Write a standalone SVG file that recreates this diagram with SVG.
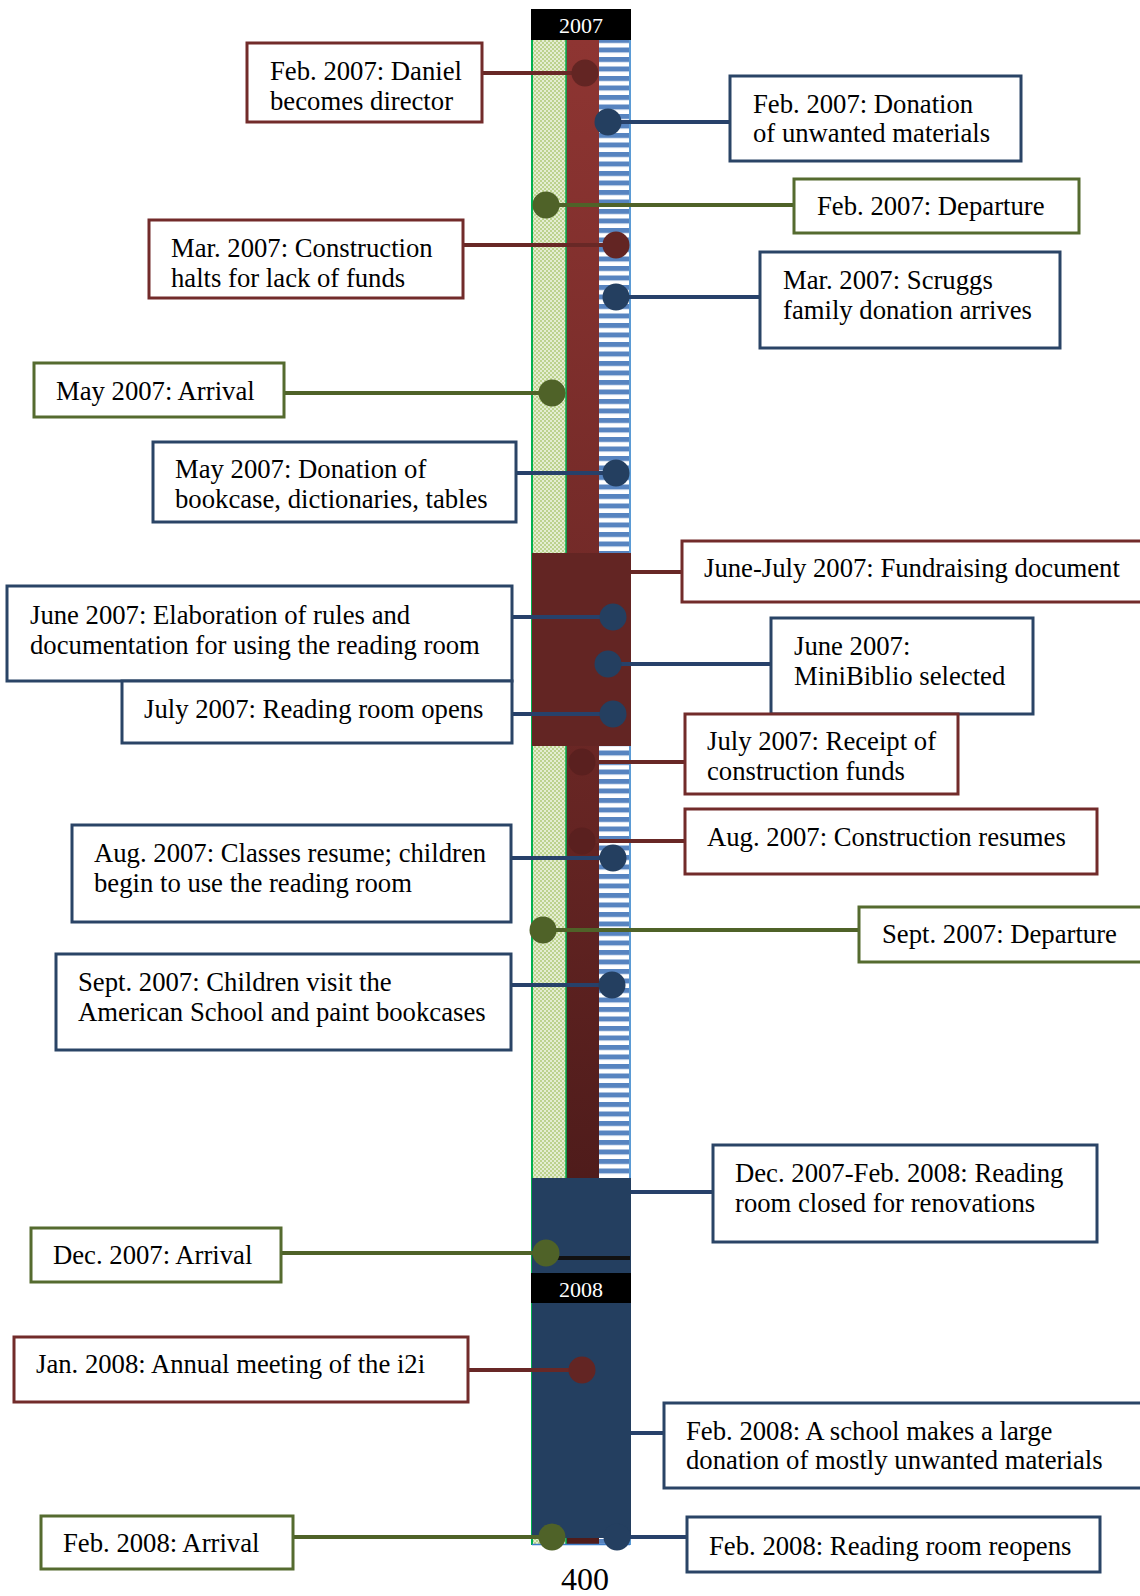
<svg xmlns="http://www.w3.org/2000/svg" width="1140" height="1596" viewBox="0 0 1140 1596">
<style>
  .box rect { fill: #ffffff; stroke-width: 3; }
  .red rect { stroke: #722B2A; }
  .navy rect { stroke: #2A4466; }
  .green rect { stroke: #556B2F; }
  .box text { font-family: "Liberation Serif", "Times New Roman", serif; font-size: 26.7px; fill: #000; }
  .conn line { stroke-width: 4; }
  .lr { stroke: #682826; }
  .ln { stroke: #27416A; }
  .lg { stroke: #4F6228; }
  .dr { fill: #632523; }
  .dn { fill: #243F60; }
  .dg { fill: #4F6228; }
  .df { fill: #5A201F; }
  .yr { font-family: "Liberation Serif", "Times New Roman", serif; font-size: 22px; fill: #fff; text-anchor: middle; }
</style>
<defs>
  <pattern id="check" patternUnits="userSpaceOnUse" width="4" height="4">
    <rect width="4" height="4" fill="#E4EDD2"/>
    <rect width="2" height="2" fill="#BCD28E"/>
    <rect x="2" y="2" width="2" height="2" fill="#BCD28E"/>
  </pattern>
  <pattern id="stripes" patternUnits="userSpaceOnUse" width="40" height="9.5">
    <rect width="40" height="9.5" fill="#ffffff"/>
    <rect y="0" width="40" height="5" fill="#5784C0"/>
  </pattern>
  <linearGradient id="redgrad" gradientUnits="userSpaceOnUse" x1="0" y1="40" x2="0" y2="1178">
    <stop offset="0" stop-color="#8E3532"/>
    <stop offset="0.6" stop-color="#6B2725"/>
    <stop offset="1" stop-color="#4F1C1B"/>
  </linearGradient>
</defs>

<g id="timeline">
  <rect x="532" y="40" width="34" height="1505" fill="url(#check)"/>
  <rect x="566" y="40" width="33" height="1505" fill="url(#redgrad)"/>
  <rect x="599" y="40" width="31" height="1505" fill="url(#stripes)"/>
  <line x1="532" y1="40" x2="532" y2="1545" stroke="#00B050" stroke-width="2"/>
  <line x1="566" y1="40" x2="566" y2="1545" stroke="#00B050" stroke-width="1.5"/>
  <line x1="630" y1="40" x2="630" y2="1545" stroke="#5B9BD5" stroke-width="2"/>
  <line x1="532" y1="1544.5" x2="630" y2="1544.5" stroke="#3E7EC9" stroke-width="1.5"/>
  <rect x="531" y="9" width="100" height="31" fill="#000"/>
  <text class="yr" x="581" y="33">2007</text>
  <rect x="532" y="553" width="99" height="193" fill="#632523"/>
  <rect x="532" y="1178" width="99" height="360" fill="#243F60"/>
  <rect x="531" y="1273" width="100" height="30" fill="#000"/>
  <text class="yr" x="581" y="1297">2008</text>
</g>

<g id="connectors" class="conn">
  <line class="lr" x1="482" y1="73" x2="585" y2="73"/>
  <line class="ln" x1="608" y1="122" x2="730" y2="122"/>
  <line class="lg" x1="546" y1="205" x2="794" y2="205"/>
  <line class="lr" x1="463" y1="245" x2="616" y2="245"/>
  <line class="ln" x1="616" y1="297" x2="760" y2="297"/>
  <line class="lg" x1="284" y1="393" x2="552" y2="393"/>
  <line class="ln" x1="516" y1="473" x2="616" y2="473"/>
  <line class="lr" x1="631" y1="572" x2="682" y2="572"/>
  <line class="ln" x1="512" y1="617" x2="613" y2="617"/>
  <line class="ln" x1="608" y1="664" x2="771" y2="664"/>
  <line class="ln" x1="512" y1="714" x2="613" y2="714"/>
  <line class="lr" x1="582" y1="762" x2="685" y2="762"/>
  <line class="lr" x1="582" y1="841" x2="685" y2="841"/>
  <line class="ln" x1="511" y1="858" x2="613" y2="858"/>
  <line class="lg" x1="543" y1="930" x2="859" y2="930"/>
  <line class="ln" x1="511" y1="985" x2="612" y2="985"/>
  <line class="ln" x1="631" y1="1192" x2="713" y2="1192"/>
  <line class="lg" x1="281" y1="1253" x2="546" y2="1253"/>
  <line x1="546" y1="1258" x2="630" y2="1258" stroke="#111" stroke-width="2"/>
  <line class="lr" x1="468" y1="1370" x2="582" y2="1370"/>
  <line class="ln" x1="631" y1="1433" x2="664" y2="1433"/>
  <line class="lg" x1="293" y1="1537" x2="552" y2="1537"/>
  <line class="ln" x1="617" y1="1537" x2="687" y2="1537"/>
  <circle class="dr" cx="585" cy="73" r="13.5"/>
  <circle class="dn" cx="608" cy="122" r="13.5"/>
  <circle class="dg" cx="546" cy="205" r="13.5"/>
  <circle class="dr" cx="616" cy="245" r="13.5"/>
  <circle class="dn" cx="616" cy="297" r="13.5"/>
  <circle class="dg" cx="552" cy="393" r="13.5"/>
  <circle class="dn" cx="616" cy="473" r="13.5"/>
  <circle class="dn" cx="613" cy="617" r="13.5"/>
  <circle class="dn" cx="608" cy="664" r="13.5"/>
  <circle class="dn" cx="613" cy="714" r="13.5"/>
  <circle class="df" cx="582" cy="762" r="13.5"/>
  <circle class="df" cx="582" cy="841" r="13.5"/>
  <circle class="dn" cx="613" cy="858" r="13.5"/>
  <circle class="dg" cx="543" cy="930" r="13.5"/>
  <circle class="dn" cx="612" cy="985" r="13.5"/>
  <circle class="dg" cx="546" cy="1253" r="13.5"/>
  <circle class="dr" cx="582" cy="1370" r="13.5"/>
  <circle class="dg" cx="552" cy="1537" r="13.5"/>
  <circle class="dn" cx="617" cy="1537" r="13.5"/>
</g>

<g id="n1" class="box red"><rect x="247" y="43" width="235" height="79"/><text x="270" y="80">Feb. 2007: Daniel</text><text x="270" y="110">becomes director</text></g>
<g id="n2" class="box navy"><rect x="730" y="76" width="291" height="85"/><text x="753" y="113">Feb. 2007: Donation</text><text x="753" y="142">of unwanted materials</text></g>
<g id="n3" class="box green"><rect x="794" y="179" width="285" height="54"/><text x="817" y="215">Feb. 2007: Departure</text></g>
<g id="n4" class="box red"><rect x="149" y="220" width="314" height="78"/><text x="171" y="257">Mar. 2007: Construction</text><text x="171" y="287">halts for lack of funds</text></g>
<g id="n5" class="box navy"><rect x="760" y="252" width="300" height="96"/><text x="783" y="289">Mar. 2007: Scruggs</text><text x="783" y="319">family donation arrives</text></g>
<g id="n6" class="box green"><rect x="34" y="363" width="250" height="54"/><text x="56" y="400">May 2007: Arrival</text></g>
<g id="n7" class="box navy"><rect x="153" y="442" width="363" height="80"/><text x="175" y="478">May 2007: Donation of</text><text x="175" y="508">bookcase, dictionaries, tables</text></g>
<g id="n8" class="box red"><rect x="682" y="541" width="460" height="61"/><text x="704" y="577">June-July 2007: Fundraising document</text></g>
<g id="n9" class="box navy"><rect x="7" y="586" width="505" height="95"/><text x="30" y="624">June 2007: Elaboration of rules and</text><text x="30" y="654">documentation for using the reading room</text></g>
<g id="n10" class="box navy"><rect x="771" y="618" width="262" height="96"/><text x="794" y="655">June 2007:</text><text x="794" y="685">MiniBiblio selected</text></g>
<g id="n11" class="box navy"><rect x="122" y="681" width="390" height="62"/><text x="144" y="718">July 2007: Reading room opens</text></g>
<g id="n12" class="box red"><rect x="685" y="714" width="273" height="80"/><text x="707" y="750">July 2007: Receipt of</text><text x="707" y="780">construction funds</text></g>
<g id="n13" class="box red"><rect x="685" y="809" width="412" height="65"/><text x="707" y="846">Aug. 2007: Construction resumes</text></g>
<g id="n14" class="box navy"><rect x="72" y="825" width="439" height="97"/><text x="94" y="862">Aug. 2007: Classes resume; children</text><text x="94" y="892">begin to use the reading room</text></g>
<g id="n15" class="box green"><rect x="859" y="907" width="290" height="55"/><text x="882" y="943">Sept. 2007: Departure</text></g>
<g id="n16" class="box navy"><rect x="56" y="954" width="455" height="96"/><text x="78" y="991">Sept. 2007: Children visit the</text><text x="78" y="1021">American School and paint bookcases</text></g>
<g id="n17" class="box navy"><rect x="713" y="1145" width="384" height="97"/><text x="735" y="1182">Dec. 2007-Feb. 2008: Reading</text><text x="735" y="1212">room closed for renovations</text></g>
<g id="n18" class="box green"><rect x="31" y="1228" width="250" height="54"/><text x="53" y="1264">Dec. 2007: Arrival</text></g>
<g id="n19" class="box red"><rect x="14" y="1337" width="454" height="65"/><text x="36" y="1373">Jan. 2008: Annual meeting of the i2i</text></g>
<g id="n20" class="box navy"><rect x="664" y="1403" width="480" height="85"/><text x="686" y="1440">Feb. 2008: A school makes a large</text><text x="686" y="1469">donation of mostly unwanted materials</text></g>
<g id="n21" class="box green"><rect x="41" y="1516" width="252" height="53"/><text x="63" y="1552">Feb. 2008: Arrival</text></g>
<g id="n22" class="box navy"><rect x="687" y="1517" width="413" height="55"/><text x="709" y="1555">Feb. 2008: Reading room reopens</text></g>

<text x="585" y="1590" font-family="Liberation Serif, serif" font-size="32" text-anchor="middle" fill="#000">400</text>
</svg>
